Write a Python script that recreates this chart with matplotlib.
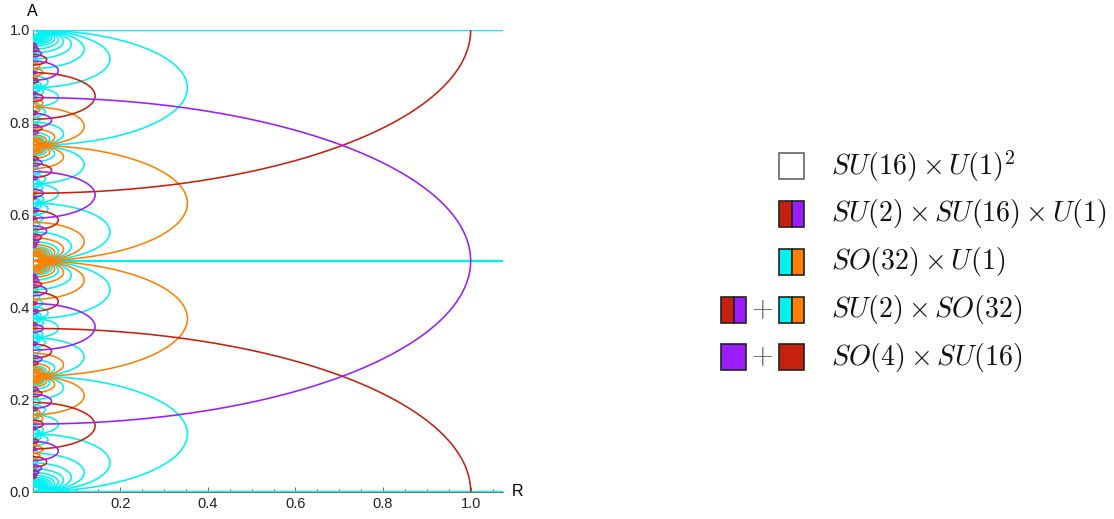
import numpy as np
import matplotlib.pyplot as plt
from matplotlib.patches import Rectangle

plt.rcParams['font.family'] = ['Liberation Sans', 'DejaVu Sans']
plt.rcParams['mathtext.fontset'] = 'cm'

# enhancement curves, given by their two end points (A_low, A_high) on R = 0
cyan_arcs = [
    # A = 0 .. 0.25
    (0, 0.25), (0, 0.125), (0, 0.083333), (0, 0.0625), (0, 0.05), (0, 0.041667),
    (0, 0.035714), (0, 0.03125), (0, 0.027778), (0, 0.025), (0, 0.022727), (0, 0.020833),
    (0, 0.019231), (0, 0.017857), (0, 0.016667), (0, 0.015625), (0, 0.014706), (0, 0.013889),
    (0, 0.013158), (0, 0.0125), (0, 0.011905), (0, 0.011364), (0, 0.01087), (0, 0.010417),
    (0.125, 0.166667), (0.15625, 0.166667), (0.166667, 0.1875), (0.1, 0.125),
    (0.1875, 0.2), (0.125, 0.142857), (0.111111, 0.125), (0.125, 0.136364),
    (0.2, 0.25), (0.222222, 0.25), (0.230769, 0.25), (0.235294, 0.25), (0.238095, 0.25),
    (0.24, 0.25), (0.241379, 0.25), (0.242424, 0.25),
    (0.115385, 0.125), (0.125, 0.133333), (0.117647, 0.125), (0.083333, 0.090909),
    (0.0625, 0.071429), (0.055556, 0.0625), (0.142857, 0.15), (0.2, 0.208333), (0.166667, 0.175),
    # A = 0.25 .. 0.5
    (0.375, 0.5), (0.4375, 0.5), (0.458333, 0.5), (0.46875, 0.5), (0.475, 0.5), (0.479167, 0.5),
    (0.482143, 0.5), (0.484375, 0.5), (0.486111, 0.5), (0.4875, 0.5), (0.488636, 0.5), (0.489583, 0.5),
    (0.25, 0.333333), (0.25, 0.285714), (0.25, 0.272727), (0.25, 0.266667), (0.25, 0.263158), (0.25, 0.26087),
    (0.25, 0.259259), (0.25, 0.258065), (0.25, 0.257143),
    (0.333333, 0.375), (0.333333, 0.35), (0.333333, 0.34375), (0.3125, 0.333333),
    (0.321429, 0.333333), (0.4, 0.416667), (0.375, 0.4), (0.3, 0.3125),
    (0.416667, 0.428571), (0.357143, 0.375), (0.375, 0.388889), (0.363636, 0.375),
    (0.375, 0.384615), (0.366667, 0.375), (0.375, 0.382353), (0.428571, 0.4375),
    (0.4375, 0.444444), (0.291667, 0.3), (0.333333, 0.340909), (0.325, 0.333333), (0.392857, 0.4),
    # A = 0.5 .. 0.75
    (0.5, 0.625), (0.5, 0.5625), (0.5, 0.541667), (0.5, 0.53125), (0.5, 0.525), (0.5, 0.520833),
    (0.5, 0.517857), (0.5, 0.515625), (0.5, 0.513889), (0.5, 0.5125), (0.5, 0.511364), (0.5, 0.510417),
    (0.666667, 0.75), (0.714286, 0.75), (0.727273, 0.75), (0.733333, 0.75), (0.736842, 0.75), (0.73913, 0.75),
    (0.740741, 0.75), (0.741935, 0.75), (0.742857, 0.75),
    (0.625, 0.666667), (0.65, 0.666667), (0.65625, 0.666667), (0.666667, 0.6875),
    (0.666667, 0.678571), (0.583333, 0.6), (0.6, 0.625), (0.6875, 0.7),
    (0.571429, 0.583333), (0.625, 0.642857), (0.611111, 0.625), (0.625, 0.636364),
    (0.615385, 0.625), (0.625, 0.633333), (0.617647, 0.625), (0.5625, 0.571429),
    (0.555556, 0.5625), (0.7, 0.708333), (0.659091, 0.666667), (0.666667, 0.675), (0.6, 0.607143),
    # A = 0.75 .. 1
    (0.75, 1), (0.875, 1), (0.916667, 1), (0.9375, 1), (0.95, 1), (0.958333, 1),
    (0.964286, 1), (0.96875, 1), (0.972222, 1), (0.975, 1), (0.977273, 1), (0.979167, 1),
    (0.980769, 1), (0.982143, 1), (0.983333, 1), (0.984375, 1), (0.985294, 1), (0.986111, 1),
    (0.986842, 1), (0.9875, 1), (0.988095, 1), (0.988636, 1), (0.98913, 1), (0.989583, 1),
    (0.833333, 0.875), (0.833333, 0.84375), (0.8125, 0.833333), (0.875, 0.9),
    (0.8, 0.8125), (0.857143, 0.875), (0.875, 0.888889), (0.863636, 0.875),
    (0.75, 0.8), (0.75, 0.777778), (0.75, 0.769231), (0.75, 0.764706), (0.75, 0.761905),
    (0.75, 0.76), (0.75, 0.758621), (0.75, 0.757576),
    (0.875, 0.884615), (0.866667, 0.875), (0.875, 0.882353), (0.909091, 0.916667),
    (0.928571, 0.9375), (0.9375, 0.944444), (0.85, 0.857143), (0.791667, 0.8), (0.825, 0.833333),
]

orange_arcs = [
    (0.166667, 0.25), (0.214286, 0.25), (0.227273, 0.25), (0.233333, 0.25), (0.236842, 0.25), (0.23913, 0.25),
    (0.240741, 0.25), (0.241935, 0.25), (0.242857, 0.25),
    (0.15, 0.166667), (0.166667, 0.178571), (0.083333, 0.1), (0.071429, 0.083333),
    (0.159091, 0.166667), (0.1, 0.107143),
    (0.25, 0.5), (0.416667, 0.5), (0.45, 0.5), (0.464286, 0.5), (0.472222, 0.5), (0.477273, 0.5),
    (0.480769, 0.5), (0.483333, 0.5), (0.485294, 0.5), (0.486842, 0.5), (0.488095, 0.5), (0.48913, 0.5),
    (0.25, 0.3), (0.25, 0.277778), (0.25, 0.269231), (0.25, 0.264706), (0.25, 0.261905),
    (0.25, 0.26), (0.25, 0.258621), (0.25, 0.257576),
    (0.409091, 0.416667), (0.35, 0.357143),
    (0.5, 0.75), (0.5, 0.583333), (0.5, 0.55), (0.5, 0.535714), (0.5, 0.527778), (0.5, 0.522727),
    (0.5, 0.519231), (0.5, 0.516667), (0.5, 0.514706), (0.5, 0.513158), (0.5, 0.511905), (0.5, 0.51087),
    (0.7, 0.75), (0.722222, 0.75), (0.730769, 0.75), (0.735294, 0.75), (0.738095, 0.75),
    (0.74, 0.75), (0.741379, 0.75), (0.742424, 0.75),
    (0.583333, 0.590909), (0.642857, 0.65),
    (0.75, 0.833333), (0.75, 0.785714), (0.75, 0.772727), (0.75, 0.766667), (0.75, 0.763158), (0.75, 0.76087),
    (0.75, 0.759259), (0.75, 0.758065), (0.75, 0.757143),
    (0.833333, 0.85), (0.821429, 0.833333), (0.9, 0.916667), (0.916667, 0.928571),
    (0.833333, 0.840909), (0.892857, 0.9),
]

red_arcs = [
    (-0.353553, 0.353553), (0.646447, 1.353553),
    (0.092349, 0.193365), (0.806635, 0.907651),
    (0.390968, 0.432562), (0.567438, 0.609032),
    (0.288976, 0.31972), (0.68028, 0.711024),
    (0.053111, 0.075921), (0.924079, 0.946889),
    (0.137718, 0.154964), (0.845036, 0.862282),
    (0.205244, 0.220288), (0.779712, 0.794756),
    (0.441765, 0.456195), (0.543805, 0.558235),
    (0.037274, 0.047234), (0.952766, 0.962726),
    (0.104746, 0.114432), (0.885568, 0.895254),
    (0.274006, 0.282956), (0.717044, 0.725994),
    (0.175802, 0.183748), (0.816252, 0.824198),
    (0.460273, 0.467563), (0.532437, 0.539727),
    (0.404334, 0.4112), (0.5888, 0.595666),
    (0.359703, 0.365961), (0.634039, 0.640297),
    (0.028712, 0.03428), (0.96572, 0.97128),
]

purple_arcs = [
    (0.146447, 0.853553),
    (0.306635, 0.407651), (0.592349, 0.693365),
    (0.067438, 0.109032), (0.890968, 0.932562),
    (0.18028, 0.211024), (0.788976, 0.81972),
    (0.424079, 0.446889), (0.553111, 0.575921),
    (0.345036, 0.362282), (0.637718, 0.654964),
    (0.279712, 0.294756), (0.705244, 0.720288),
    (0.043805, 0.058235), (0.941765, 0.956195),
    (0.452766, 0.462726), (0.537274, 0.547234),
    (0.385568, 0.395254), (0.604746, 0.614432),
    (0.217044, 0.225994), (0.774006, 0.782956),
    (0.316252, 0.324198), (0.675802, 0.683748),
    (0.032437, 0.039727), (0.960273, 0.967563),
    (0.0888, 0.095666), (0.904334, 0.9112),
    (0.134039, 0.140297), (0.859703, 0.865961),
    (0.46572, 0.471288), (0.528712, 0.53428),
]

cyan_lines = [0.0, 0.5, 1.0]

legend_labels = [r'$SU(16)\times U(1)^2$',
                 r'$SU(2)\times SU(16)\times U(1)$',
                 r'$SO(32)\times U(1)$',
                 r'$SU(2)\times SO(32)$',
                 r'$SO(4)\times SU(16)$']

CYAN = '#00F2F2'
ORANGE = '#FF8000'
RED = '#C8200E'
PURPLE = '#9A1CFF'

fig = plt.figure(figsize=(11.14, 5.19), dpi=100)
ax = fig.add_axes([0.0292, 0.0526, 0.4224, 0.8896])

theta = np.linspace(0, np.pi, 400)


def draw_arc(lo, hi, color, z):
    # semicircle R^2 + 8 (A - c)^2 = 8 h^2
    c, h = (lo + hi) / 2, (hi - lo) / 2
    ax.plot(2 * np.sqrt(2) * h * np.sin(theta), c + h * np.cos(theta),
            color=color, lw=1.15, zorder=z, solid_capstyle='butt')


for lo, hi in cyan_arcs:
    draw_arc(lo, hi, CYAN, 3)
for a in cyan_lines:
    ax.axhline(a, color=CYAN, lw=1.6, zorder=3.5)
for lo, hi in orange_arcs:
    draw_arc(lo, hi, ORANGE, 4)
for lo, hi in red_arcs:
    draw_arc(lo, hi, RED, 5)
for lo, hi in purple_arcs:
    draw_arc(lo, hi, PURPLE, 6)

ax.set_xlim(0, 1.074)
ax.set_ylim(0, 1)
for s in ['top', 'right']:
    ax.spines[s].set_visible(False)
for s in ['left', 'bottom']:
    ax.spines[s].set_color('#777777')
    ax.spines[s].set_linewidth(0.8)

ax.set_xticks([0.2, 0.4, 0.6, 0.8, 1.0])
ax.set_xticklabels(['0.2', '0.4', '0.6', '0.8', '1.0'])
ax.set_xticks(np.arange(0.05, 1.07, 0.05), minor=True)
ax.set_yticks([0, 0.2, 0.4, 0.6, 0.8, 1.0])
ax.set_yticklabels(['0.0', '0.2', '0.4', '0.6', '0.8', '1.0'])
ax.set_yticks(np.arange(0.05, 1.0, 0.05), minor=True)
ax.tick_params(which='both', direction='in', color='#666666', width=0.7,
               labelsize=10.5, labelcolor='#222222')
ax.tick_params(which='major', length=3.5)
ax.tick_params(which='minor', length=2)
ax.tick_params(axis='x', pad=3.5)
ax.tick_params(axis='y', pad=2)

ax.annotate('A', xy=(0, 1), xycoords='axes fraction', xytext=(0, 13),
            textcoords='offset points', ha='center', va='center', fontsize=11.5)
ax.annotate('R', xy=(1, 0), xycoords='axes fraction', xytext=(10.5, 0),
            textcoords='offset points', ha='center', va='center', fontsize=11.5)

# legend drawn in pixel coordinates
lax = fig.add_axes([0, 0, 1, 1])
lax.set_xlim(0, 1114)
lax.set_ylim(519, 0)
lax.axis('off')

row_y = [166, 214, 262, 310, 357]
bw, bh = 25, 26


def box(x, y, colors, edge='#222222'):
    n = len(colors)
    for i, col in enumerate(colors):
        lax.add_patch(Rectangle((x + i * bw / n, y - bh / 2), bw / n, bh,
                                facecolor=col, edgecolor=edge, lw=1.2))


box(779, row_y[0], ['white'], edge='#666666')
box(779, row_y[1], [RED, PURPLE])
box(779, row_y[2], [CYAN, ORANGE])
box(721, row_y[3], [RED, PURPLE])
box(779, row_y[3], [CYAN, ORANGE])
box(721, row_y[4], [PURPLE])
box(779, row_y[4], [RED])
for y in row_y[3:]:
    lax.text(762.5, y, r'$+$', ha='center', va='center', fontsize=20, color='#555555')

for y, lab in zip(row_y, legend_labels):
    lax.text(831, y, lab, ha='left', va='center', fontsize=20.2, color='#111111')

fig.savefig('out.png', dpi=100)
